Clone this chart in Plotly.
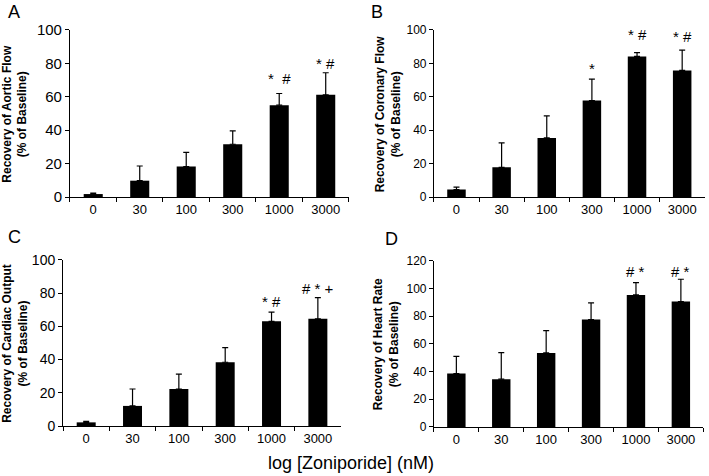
import plotly.graph_objects as go

# Zoniporide concentrations (nM)
doses = ["0", "30", "100", "300", "1000", "3000"]

aortic_flow = [1.8, 9.8, 18.3, 31.6, 55.0, 61.2]
aortic_flow_err = [0.6, 8.8, 8.5, 8.0, 7.0, 13.2]

coronary_flow = [4.5, 17.8, 35.4, 57.8, 84.2, 75.8]
coronary_flow_err = [1.4, 14.6, 13.2, 12.8, 2.2, 12.2]

cardiac_output = [2.2, 12.1, 22.3, 38.4, 63.0, 64.5]
cardiac_output_err = [0.6, 10.2, 8.9, 8.8, 5.6, 12.8]

heart_rate = [38.6, 34.5, 53.5, 77.6, 95.4, 90.6]
heart_rate_err = [12.4, 19.2, 16.1, 12.0, 8.9, 16.1]

FONT = "Arial, Liberation Sans, sans-serif"

panels = [
    dict(y=aortic_flow, err=aortic_flow_err,
         title="Recovery of Aortic Flow<br>(% of Baseline)", ymax=100,
         xd=[0.0987, 0.4922], yd=[0.586, 0.937], ytick=15,
         letter="A", lpos=(0.008, 0.975), tx=0.020),
    dict(y=coronary_flow, err=coronary_flow_err,
         title="Recovery of Coronary Flow<br>(% of Baseline)", ymax=100,
         xd=[0.612, 0.994], yd=[0.586, 0.937], ytick=12,
         letter="B", lpos=(0.520, 0.975), tx=0.547),
    dict(y=cardiac_output, err=cardiac_output_err,
         title="Recovery of Cardiac Output<br>(% of Baseline)", ymax=100,
         xd=[0.0889, 0.481], yd=[0.105, 0.454], ytick=14,
         letter="C", lpos=(0.008, 0.502), tx=0.021),
    dict(y=heart_rate, err=heart_rate_err,
         title="Recovery of Heart Rate<br>(% of Baseline)", ymax=120,
         xd=[0.612, 0.992], yd=[0.103, 0.452], ytick=12,
         letter="D", lpos=(0.540, 0.497), tx=0.545),
]

# significance marks: (panel index, category, y, text)
marks = [
    (0, "1000", 71, "*  #"), (0, "3000", 80, "* #"),
    (1, "300", 77, "*"), (1, "1000", 97, "* #"), (1, "3000", 96, "* #"),
    (2, "1000", 75, "* #"), (2, "3000", 83, "# * +"),
    (3, "1000", 112, "# *"), (3, "3000", 112, "# *"),
]

fig = go.Figure()
layout = dict(
    width=709, height=476,
    margin=dict(l=0, r=0, t=0, b=0),
    paper_bgcolor="white", plot_bgcolor="white",
    showlegend=False, bargap=0.59,
    font=dict(family=FONT, color="black"),
)
annotations = []

for i, p in enumerate(panels):
    n = "" if i == 0 else str(i + 1)
    fig.add_trace(go.Bar(
        x=doses, y=p["y"],
        marker=dict(color="black", line=dict(color="black", width=0)),
        error_y=dict(type="data", array=p["err"], arrayminus=[0] * 6,
                     symmetric=False, color="black", thickness=1.2, width=3),
        xaxis="x" + n, yaxis="y" + n,
    ))
    layout["xaxis" + n] = dict(
        domain=p["xd"], anchor="y" + n, type="category", automargin=False,
        range=[-0.5, 5.5], showline=True, linecolor="black", linewidth=1,
        ticks="outside", tickson="boundaries", ticklen=4, tickcolor="black",
        tickfont=dict(size=13, family=FONT), showgrid=False, zeroline=False,
    )
    layout["yaxis" + n] = dict(
        domain=p["yd"], anchor="x" + n, range=[0, p["ymax"]], dtick=20,
        automargin=False, showline=True, linecolor="black", linewidth=1,
        ticks="outside", ticklen=4, tickcolor="black",
        tickfont=dict(size=p["ytick"], family=FONT), showgrid=False,
        zeroline=False,
    )
    annotations.append(dict(
        text="<b>" + p["title"].replace("<br>", "</b><br><b>") + "</b>",
        textangle=-90, xref="paper", yref="paper",
        x=p["tx"], y=sum(p["yd"]) / 2, showarrow=False,
        font=dict(size=12, family=FONT, color="black"),
        xanchor="center", yanchor="middle",
    ))
    annotations.append(dict(
        text=p["letter"], xref="paper", yref="paper",
        x=p["lpos"][0], y=p["lpos"][1], showarrow=False,
        font=dict(size=18, family=FONT, color="black"),
        xanchor="left", yanchor="middle",
    ))

for idx, cat, yv, txt in marks:
    n = "" if idx == 0 else str(idx + 1)
    annotations.append(dict(
        text=txt, x=doses.index(cat), y=yv, xref="x" + n, yref="y" + n,
        showarrow=False, font=dict(size=15, family=FONT, color="black"),
        xanchor="center", yanchor="middle",
    ))

annotations.append(dict(
    text="log [Zoniporide] (nM)", xref="paper", yref="paper",
    x=0.495, y=0.027, showarrow=False,
    font=dict(size=18, family=FONT, color="black"),
    xanchor="center", yanchor="middle",
))

layout["annotations"] = annotations
fig.update_layout(**layout)
# drop the browser's default body margin so the figure fills the window
fig.write_html("out.html", config={"displayModeBar": False},
               post_script="document.body.style.margin='0px';")
